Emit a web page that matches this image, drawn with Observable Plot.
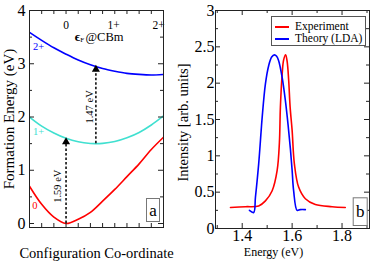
<!DOCTYPE html>
<html><head><meta charset="utf-8">
<script src="https://cdn.jsdelivr.net/npm/d3@7"></script>
<script src="https://cdn.jsdelivr.net/npm/@observablehq/plot@0.6"></script>
<style>
body{margin:0;background:#fff;}
#wrap{position:relative;width:374px;height:262px;overflow:hidden;font-family:"Liberation Serif","Times New Roman",Times,"DejaVu Serif",serif;background:#fff;}
#wrap svg{position:absolute;top:0;}
#wrap svg, #wrap svg text{font-family:"Liberation Serif","Times New Roman",Times,"DejaVu Serif",serif !important;}
#legend{position:absolute;left:271px;top:16px;width:93px;height:28px;border:1px solid #555;background:#fff;font-size:11.5px;}
#legend .row{position:absolute;left:3px;height:12px;line-height:12px;white-space:nowrap;}
#legend .sw{display:inline-block;width:14px;height:0;border-top:2px solid;vertical-align:middle;margin-right:6px;}
</style></head><body><div id="wrap"></div>
<script>
// ---- Panel (a): configuration-coordinate diagram ----
const cfgX = [0, 1, 2, 3, 4, 5, 6, 7, 8, 9, 10, 11];
const neutralE = [0.70, 0.36, 0.12, 0.0, 0.08, 0.21, 0.42, 0.64, 0.88, 1.12, 1.39, 1.62];
const plusOneX = [0, 1, 2, 3, 4, 5, 5.45, 6, 7, 8, 9, 10, 11];
const plusOneE = [2.0, 1.83, 1.70, 1.60, 1.535, 1.503, 1.50, 1.505, 1.54, 1.61, 1.71, 1.85, 2.02];
const plusTwoE = [3.59, 3.44, 3.30, 3.18, 3.07, 2.98, 2.91, 2.86, 2.82, 2.80, 2.79, 2.80];
const chargeLabels = ["0", "1+", "2+"];
const chargeColors = ["#ff0000", "#40e0d0", "#0000ff"];
const chargeLabelQ = [0.45, 0.74, 0.74];
const chargeLabelE = [0.34, 1.73, 3.33];
const fermiLabels = ["0", "1+", "2+"];
const fermiLabelQ = [3.0, 6.9, 10.6];
const fermiLabelE = 3.72;
const arrowQ = [3, 5.45];
const arrowFrom = [0, 1.5];
const arrowTo = [1.59, 2.95];
const arrowText = ["1.59 eV", "1.47 eV"];
const arrowTextQ = [2.34, 4.93];
const arrowTextE = [0.70, 2.19];
const aYMajor = [0, 1, 2, 3, 4];
const aYMinor = [0.5, 1.5, 2.5, 3.5];
const aXTicks = [1, 2, 3, 4, 5, 6, 7, 8, 9, 10];

// ---- Panel (b): luminescence spectra ----
const expEnergy = [1.353, 1.413, 1.466, 1.493, 1.520, 1.540, 1.549, 1.553, 1.560, 1.566, 1.574, 1.580, 1.586, 1.592, 1.600, 1.609, 1.626, 1.653, 1.693, 1.760, 1.813];
const expIntensity = [0.29, 0.30, 0.31, 0.38, 0.52, 0.80, 1.18, 1.67, 2.12, 2.32, 2.39, 2.30, 2.05, 1.67, 1.35, 0.89, 0.57, 0.41, 0.33, 0.30, 0.29];
const ldaEnergy = [1.429, 1.446, 1.453, 1.466, 1.476, 1.480, 1.493, 1.506, 1.518, 1.529, 1.538, 1.546, 1.560, 1.573, 1.584, 1.593, 1.600, 1.606, 1.620, 1.632, 1.653];
const ldaIntensity = [0.25, 0.22, 0.43, 0.89, 1.35, 1.53, 1.99, 2.24, 2.36, 2.39, 2.37, 2.31, 2.08, 1.76, 1.42, 1.10, 0.80, 0.52, 0.25, 0.26, 0.26];
const bXLabels = [1.4, 1.6, 1.8];
const bXMinor = [1.3, 1.5, 1.7, 1.9];
const bYMajor = [0, 0.5, 1, 1.5, 2, 2.5, 3];
const bYMinor = [0.25, 0.75, 1.25, 1.75, 2.25, 2.75];
const legendNames = ["Experiment", "Theory (LDA)"];
const legendColors = ["#ff0000", "#0000ff"];

const FONT = "'Liberation Serif', 'Times New Roman', Times, 'DejaVu Serif', serif";
const zip = (xs, ys) => xs.map((x, i) => ({x, y: ys[i]}));

// ---------- Left plot ----------
const LW = 180, LH = 262, LML = 29, LMR = 17, LMT = 10, LMB = 35;
const lfw = LW - LML - LMR, lfh = LH - LMT - LMB;
const arrows = arrowQ.map((q, i) => ({q, from: arrowFrom[i], to: arrowTo[i]}));
const arrowLabels = arrowText.map((t, i) => ({t, q: arrowTextQ[i], e: arrowTextE[i]}));
const chargeData = chargeLabels.map((t, i) => ({t, q: chargeLabelQ[i], e: chargeLabelE[i], c: chargeColors[i]}));
const fermiData = fermiLabels.map((t, i) => ({t, q: fermiLabelQ[i], e: fermiLabelE}));

const left = Plot.plot({
  width: LW, height: LH, marginLeft: LML, marginRight: LMR, marginTop: LMT, marginBottom: LMB,
  style: {fontFamily: FONT, background: "transparent", color: "#000"},
  x: {domain: [0, 11], axis: null},
  y: {domain: [-0.075, 4], axis: null},
  marks: [
    Plot.line(zip(cfgX, neutralE), {x: "x", y: "y", stroke: chargeColors[0], strokeWidth: 1.6, curve: "catmull-rom", clip: true}),
    Plot.line(zip(plusOneX, plusOneE), {x: "x", y: "y", stroke: chargeColors[1], strokeWidth: 1.6, curve: "catmull-rom", clip: true}),
    Plot.line(zip(cfgX, plusTwoE), {x: "x", y: "y", stroke: chargeColors[2], strokeWidth: 1.6, curve: "catmull-rom", clip: true}),
    Plot.ruleX(arrows, {x: "q", y1: "from", y2: "to", stroke: "#000", strokeWidth: 1.5, strokeDasharray: "2.5,2"}),
    Plot.dot(arrows, {x: "q", y: "to", symbol: "triangle", r: 3, fill: "#000", stroke: "none", dy: 3}),
    Plot.text(arrowLabels, {x: "q", y: "e", text: "t", rotate: -90, fontSize: 10.5, fill: "#000"}),
    Plot.text(chargeData, {x: "q", y: "e", text: "t", fill: "c", fontSize: 10.5}),
    Plot.text(fermiData, {x: "q", y: "e", text: "t", fontSize: 11.5, fill: "#000"}),
    Plot.text(["ϵ"], {x: 3.94, y: 3.5, text: d => d, fontSize: 13, fontWeight: "bold", fill: "#000"}),
    Plot.text(["F"], {x: 4.33, y: 3.5, text: d => d, fontSize: 7, dy: 3, fill: "#000"}),
    Plot.text(["@CBm"], {x: 4.6, y: 3.5, text: d => d, fontSize: 12.5, textAnchor: "start", fill: "#000"}),
    // ticks (inward)
    Plot.ruleY(aYMajor, {y: d => d, insetRight: lfw - 5, stroke: "#222"}),
    Plot.ruleY(aYMajor, {y: d => d, insetLeft: lfw - 5, stroke: "#222"}),
    Plot.ruleY(aYMinor, {y: d => d, insetRight: lfw - 3, stroke: "#222"}),
    Plot.ruleY(aYMinor, {y: d => d, insetLeft: lfw - 3, stroke: "#222"}),
    Plot.ruleX(aXTicks, {x: d => d, insetTop: lfh - 4, stroke: "#222"}),
    Plot.ruleX(aXTicks, {x: d => d, insetBottom: lfh - 4, stroke: "#222"}),
    Plot.axisY(aYMajor, {anchor: "left", tickSize: 0, tickPadding: 4, fontSize: 16, label: null, tickFormat: d => String(d)}),
    Plot.frame({stroke: "#222"}),
    Plot.frame({stroke: "#777", fill: "#fff", insetLeft: 117, insetRight: 4, insetTop: 188, insetBottom: 6}),
    Plot.text(["a"], {text: d => d, frameAnchor: "bottom-right", textAnchor: "middle", lineAnchor: "middle", dx: -10.5, dy: -17, fontSize: 17, fill: "#000"}),
    Plot.text(["Formation Energy (eV)"], {text: d => d, frameAnchor: "left", textAnchor: "middle", lineAnchor: "middle", rotate: -90, dx: -20, fontSize: 15, fill: "#000"}),
    Plot.text(["Configuration Co-ordinate"], {text: d => d, frameAnchor: "bottom", lineAnchor: "middle", dy: 26, fontSize: 14.5, fill: "#000"})
  ]
});
left.style.left = "0px";

// ---------- Right plot ----------
const RW = 204, RH = 262, RML = 45, RMR = 5, RMT = 10, RMB = 34;
const rfw = RW - RML - RMR, rfh = RH - RMT - RMB;
const bXMajor = bXLabels;
const right = Plot.plot({
  width: RW, height: RH, marginLeft: RML, marginRight: RMR, marginTop: RMT, marginBottom: RMB,
  style: {fontFamily: FONT, background: "transparent", color: "#000"},
  x: {domain: [1.293, 1.91], axis: null},
  y: {domain: [0, 3], axis: null},
  marks: [
    Plot.line(zip(expEnergy, expIntensity), {x: "x", y: "y", stroke: legendColors[0], strokeWidth: 1.6, curve: "catmull-rom"}),
    Plot.line(zip(ldaEnergy, ldaIntensity), {x: "x", y: "y", stroke: legendColors[1], strokeWidth: 1.6, curve: "catmull-rom"}),
    Plot.ruleY(bYMajor, {y: d => d, insetRight: rfw - 5, stroke: "#222"}),
    Plot.ruleY(bYMajor, {y: d => d, insetLeft: rfw - 5, stroke: "#222"}),
    Plot.ruleY(bYMinor, {y: d => d, insetRight: rfw - 3, stroke: "#222"}),
    Plot.ruleY(bYMinor, {y: d => d, insetLeft: rfw - 3, stroke: "#222"}),
    Plot.ruleX(bXMajor, {x: d => d, insetTop: rfh - 5, stroke: "#222"}),
    Plot.ruleX(bXMajor, {x: d => d, insetBottom: rfh - 5, stroke: "#222"}),
    Plot.ruleX(bXMinor, {x: d => d, insetTop: rfh - 3, stroke: "#222"}),
    Plot.ruleX(bXMinor, {x: d => d, insetBottom: rfh - 3, stroke: "#222"}),
    Plot.axisY(bYMajor, {anchor: "left", tickSize: 0, tickPadding: 1, fontSize: 16, label: null, tickFormat: d => String(d)}),
    Plot.axisX(bXLabels, {anchor: "bottom", tickSize: 0, tickPadding: 1, fontSize: 16, label: null, tickFormat: d => d.toFixed(1)}),
    Plot.frame({stroke: "#222"}),
    Plot.frame({stroke: "#777", fill: "#fff", insetLeft: 137.7, insetRight: 2.3, insetTop: 187.3, insetBottom: 3}),
    Plot.text(["b"], {text: d => d, frameAnchor: "bottom-right", textAnchor: "middle", lineAnchor: "middle", dx: -9.3, dy: -17, fontSize: 17, fill: "#000"}),
    Plot.text(["Intensity [arb. units]"], {text: d => d, frameAnchor: "left", textAnchor: "middle", lineAnchor: "middle", rotate: -90, dx: -32, dy: 3, fontSize: 14.5, fill: "#000"}),
    Plot.text(["Energy (eV)"], {text: d => d, frameAnchor: "bottom", lineAnchor: "middle", dx: -19, dy: 24, fontSize: 12, fill: "#000"})
  ]
});
right.style.left = "170px";

const wrap = document.getElementById("wrap");
wrap.appendChild(left);
wrap.appendChild(right);

// legend (inside panel b)
const leg = document.createElement("div");
leg.id = "legend";
legendNames.forEach((name, i) => {
  const row = document.createElement("div");
  row.className = "row";
  row.style.top = (3 + i * 12) + "px";
  const sw = document.createElement("span");
  sw.className = "sw";
  sw.style.borderColor = legendColors[i];
  row.appendChild(sw);
  row.appendChild(document.createTextNode(name));
  leg.appendChild(row);
});
wrap.appendChild(leg);
</script>
</body></html>
